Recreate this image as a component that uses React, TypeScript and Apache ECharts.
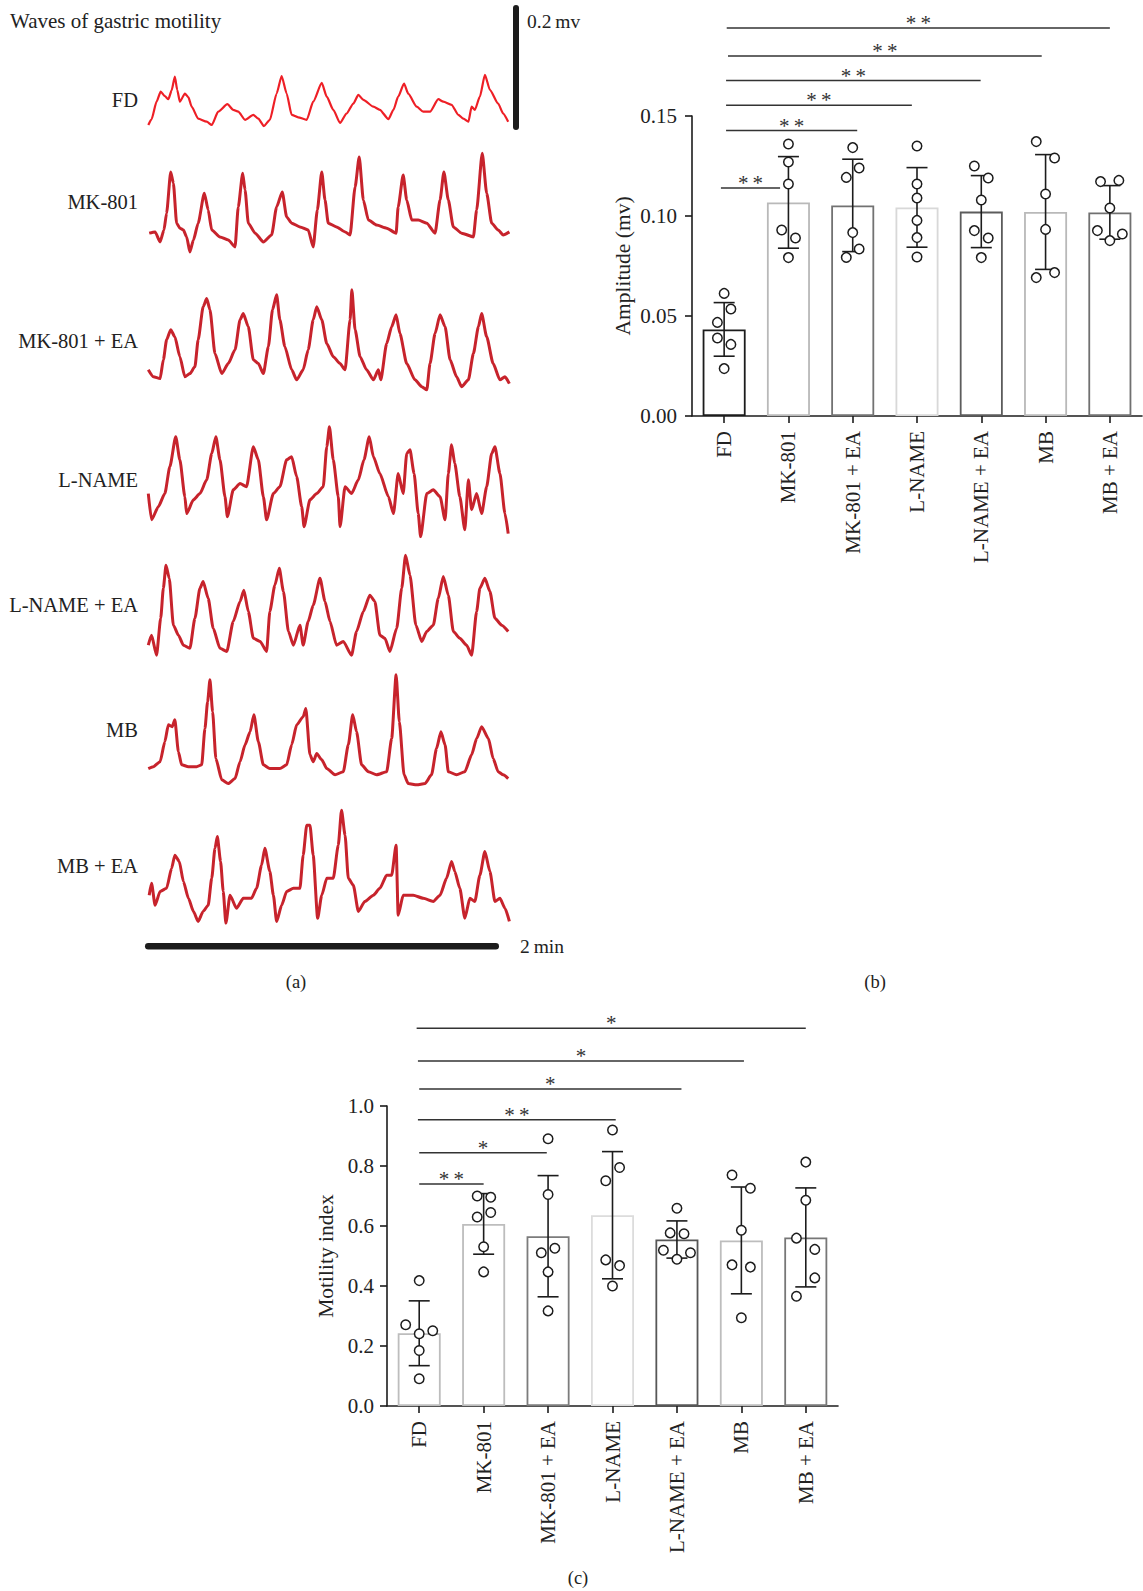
import React, { useEffect, useRef } from 'react';
import * as echarts from 'echarts';

// ---------- shared categories ----------
const GROUPS = ['FD', 'MK-801', 'MK-801 + EA', 'L-NAME', 'L-NAME + EA', 'MB', 'MB + EA'];

// ---------- panel (b): amplitude (mV) ----------
const AMP_MEAN = [0.0433, 0.1068, 0.1053, 0.1043, 0.1022, 0.102, 0.1018];
const AMP_SD = [0.0134, 0.0229, 0.0231, 0.0199, 0.018, 0.0287, 0.0134];
const AMP_POINTS = [
  [0.0613, 0.0535, 0.0468, 0.039, 0.0358, 0.0237],
  [0.136, 0.127, 0.116, 0.093, 0.089, 0.0792],
  [0.1342, 0.124, 0.1193, 0.0917, 0.0835, 0.0793],
  [0.135, 0.116, 0.109, 0.0978, 0.0892, 0.0795],
  [0.125, 0.119, 0.108, 0.0927, 0.089, 0.0792],
  [0.1372, 0.129, 0.111, 0.0933, 0.0717, 0.0692],
  [0.1172, 0.1178, 0.104, 0.0927, 0.091, 0.0877],
];
const AMP_SIG_FROM = [-0.05, 0.03, 0.03, 0.03, 0.06, 0.04];
const AMP_SIG_TO = [0.87, 2.07, 2.92, 3.99, 4.94, 6.0];
const AMP_SIG_LEVEL = [0.114, 0.1427, 0.1554, 0.1677, 0.18, 0.194];
const AMP_SIG_LABEL = ['**', '**', '**', '**', '**', '**'];

// ---------- panel (c): motility index ----------
const MI_MEAN = [0.2425, 0.607, 0.566, 0.636, 0.555, 0.552, 0.562];
const MI_SD = [0.108, 0.101, 0.202, 0.212, 0.062, 0.178, 0.165];
const MI_POINTS = [
  [0.418, 0.271, 0.251, 0.241, 0.185, 0.091],
  [0.7, 0.696, 0.645, 0.63, 0.531, 0.447],
  [0.891, 0.705, 0.526, 0.511, 0.447, 0.317],
  [0.92, 0.795, 0.751, 0.487, 0.468, 0.4],
  [0.659, 0.577, 0.574, 0.519, 0.511, 0.489],
  [0.77, 0.726, 0.586, 0.4705, 0.463, 0.294],
  [0.813, 0.686, 0.5595, 0.522, 0.427, 0.366],
];
const MI_SIG_FROM = [0, 0, -0.02, 0, -0.02, -0.04];
const MI_SIG_TO = [1.0, 1.98, 3.05, 4.07, 5.04, 6.0];
const MI_SIG_LEVEL = [0.74, 0.844, 0.954, 1.057, 1.15, 1.259];
const MI_SIG_LABEL = ['**', '*', '**', '*', '*', '*'];

// ---------- panel (a): gastric motility waves, [time s, µV] ----------
const TRACE_FD = [[0,2.7],[1.1,11.7],[2.8,40],[4.2,56],[5.6,49],[6.8,44],[7.9,58],[9.0,80],[9.8,59],[10.7,40],[12.4,53],[13.6,47],[14.7,32],[16.9,13],[19.8,8],[21.5,2.7],[23.7,24],[26.8,36],[28.8,27],[30.5,24],[32.8,11],[35.6,19],[37.3,13],[39.2,1],[41.2,11],[43.5,53],[45.2,81],[46.9,53],[48.6,19],[50.8,15],[53.7,11],[55.9,40],[58.8,70],[60.5,48],[62.7,27],[65.0,6],[67.2,21],[69.5,37],[71.2,51],[72.9,43],[76.3,32],[78.5,27],[81.4,12],[83.1,27],[84.7,48],[86.7,69],[88.1,53],[91.0,32],[93.2,24],[95.5,24],[98.3,44],[100.0,40],[102.8,35],[105.1,19],[106.8,13],[108.5,8],[109.6,32],[110.7,27],[112.4,48],[114.1,83],[115.8,59],[118.6,37],[120.3,21],[122.0,8]];
const TRACE_MK = [[0.3,35],[2.3,37],[4.0,21],[5.3,40],[6.2,67],[7.6,133],[8.5,115],[9.6,51],[10.7,43],[11.9,40],[13.0,29],[14.1,5],[15.3,24],[16.9,51],[19.0,99],[20.3,72],[21.5,40],[24.3,29],[27.1,24],[29.4,13],[30.5,77],[32.0,131],[32.8,104],[33.9,51],[36.2,35],[39.0,21],[41.8,32],[43.5,77],[45.4,101],[46.9,61],[48.6,51],[51.4,45],[54.2,40],[55.9,13],[57.3,72],[58.8,133],[59.9,88],[61.0,51],[63.8,45],[66.7,37],[68.4,32],[70.1,109],[71.5,157],[72.9,88],[74.6,56],[77.4,48],[80.8,43],[84.0,35],[84.7,77],[86.4,128],[87.6,88],[89.3,56],[91.5,56],[94.4,51],[97.2,35],[98.9,88],[100.2,133],[101.7,88],[103.4,45],[106.2,35],[110.2,29],[111.3,72],[113.2,163],[114.7,99],[116.4,51],[118.6,40],[120.3,32],[122.4,37]];
const TRACE_MK_EA = [[0,35],[1.7,24],[4.0,21],[5.1,51],[6.2,83],[7.6,99],[9.0,88],[10.7,56],[12.4,24],[14.1,29],[15.8,40],[16.9,83],[18.6,136],[19.8,149],[20.9,131],[22.6,61],[24.9,29],[27.1,45],[29.4,67],[31.1,115],[32.2,125],[33.9,104],[35.6,51],[37.3,45],[39.0,29],[40.7,72],[42.1,131],[43.5,155],[44.6,115],[46.3,72],[48.6,35],[50.3,19],[52.5,35],[54.2,67],[55.9,115],[57.1,136],[58.8,115],[60.5,77],[62.7,56],[65.0,45],[66.7,35],[68.4,115],[69.0,163],[70.1,99],[71.8,56],[74.0,35],[76.3,19],[78.0,35],[78.8,19],[80.8,77],[82.5,104],[84.0,123],[85.3,93],[87.6,45],[90.4,19],[92.7,8],[94.4,3],[95.5,45],[97.2,93],[98.9,123],[100.6,104],[102.3,51],[104.5,24],[106.2,8],[108.5,19],[110.2,61],[111.9,104],[113.0,125],[114.7,88],[116.9,45],[119.2,19],[120.9,24],[122.4,13]];
const TRACE_LN = [[0,69],[1.1,27],[3.4,48],[5.6,69],[7.3,112],[9.3,160],[10.7,123],[12.4,64],[13.0,37],[15.3,59],[17.5,69],[19.8,91],[21.5,133],[22.9,160],[24.3,123],[26.0,64],[26.8,32],[28.8,75],[31.1,85],[33.3,80],[35.6,144],[37.3,123],[39.0,64],[40.1,27],[42.4,69],[44.6,80],[46.9,123],[48.6,128],[50.3,96],[52.0,48],[52.8,16],[54.8,59],[57.1,69],[59.3,80],[60.5,144],[61.4,176],[62.7,123],[64.4,64],[65.0,16],[66.7,80],[68.9,69],[71.2,91],[73.1,123],[74.9,160],[76.3,128],[78.5,101],[81.4,64],[83.1,37],[84.7,101],[86.4,69],[87.6,133],[88.7,139],[90.1,101],[91.5,37],[92.3,0],[94.4,69],[96.6,75],[98.9,64],[100.6,27],[101.7,101],[102.8,147],[103.9,117],[105.6,64],[107.3,11],[108.5,91],[109.6,43],[111.3,69],[113.0,37],[114.7,80],[116.4,133],[117.5,144],[119.2,101],[120.9,37],[122.0,5]];
const TRACE_LN_EA = [[0,21],[1.1,37],[2.8,5],[4.2,64],[5.1,112],[6.0,149],[7.1,128],[8.5,53],[10.2,37],[11.9,21],[14.1,16],[15.8,64],[17.5,112],[18.6,123],[20.3,96],[22.0,48],[24.3,16],[26.6,11],[28.8,59],[31.1,91],[32.4,109],[33.9,75],[35.6,32],[37.9,27],[40.1,11],[41.2,75],[42.9,117],[44.4,144],[45.8,107],[47.5,43],[49.2,21],[51.4,53],[52.5,21],[54.2,59],[55.9,85],[58.2,128],[59.9,91],[61.6,59],[63.8,21],[66.1,27],[68.9,5],[70.6,43],[72.9,75],[75.1,101],[76.8,91],[78.5,37],[80.2,32],[81.9,11],[84.2,48],[85.9,112],[87.2,165],[88.7,133],[90.7,53],[92.7,27],[94.4,43],[96.6,53],[98.3,96],[100.0,131],[101.7,101],[103.4,43],[105.6,32],[107.9,21],[109.6,5],[111.3,75],[112.4,112],[114.1,128],[115.8,107],[117.5,64],[119.8,53],[122.0,43]];
const TRACE_MB = [[0,29],[1.7,32],[4.0,40],[5.6,72],[6.8,99],[8.1,96],[9.0,107],[10.2,56],[11.3,35],[13.6,32],[16.4,32],[18.1,35],[19.2,93],[20.1,136],[20.9,171],[21.8,120],[22.9,45],[24.9,11],[27.1,5],[29.4,13],[31.1,40],[32.8,67],[34.5,88],[35.8,115],[37.3,72],[39.0,35],[41.2,29],[44.6,29],[46.9,35],[48.6,67],[50.3,99],[52.5,112],[53.4,125],[54.8,51],[55.9,40],[57.1,53],[58.8,43],[60.5,29],[63.3,19],[66.1,24],[67.8,67],[69.3,115],[70.6,88],[72.3,35],[74.6,24],[77.4,19],[80.8,24],[82.5,77],[84.0,179],[85.1,104],[86.7,19],[88.1,5],[91.0,3],[93.8,5],[96.0,19],[97.7,61],[99.2,88],[100.6,67],[101.7,24],[104.5,19],[107.3,24],[109.6,51],[111.3,77],[113.0,96],[115.3,77],[116.9,45],[118.6,24],[120.3,19],[122.0,13]];
const TRACE_MB_EA = [[0.3,45],[1.1,64],[2.3,29],[4.0,51],[6.2,56],[7.9,88],[9.0,109],[10.5,99],[11.9,67],[13.6,40],[15.3,19],[16.9,3],[18.6,19],[20.3,29],[21.5,72],[22.6,120],[23.4,139],[24.5,99],[25.4,51],[26.3,0],[27.7,45],[29.9,24],[32.2,40],[35.0,40],[36.7,56],[38.4,93],[39.5,120],[41.2,83],[42.4,45],[43.5,3],[45.2,29],[46.9,51],[49.2,56],[51.4,56],[52.5,109],[53.7,157],[54.8,157],[55.9,109],[57.4,8],[58.8,45],[60.5,72],[62.7,72],[64.4,125],[65.5,181],[66.7,141],[67.8,72],[69.5,61],[71.2,19],[73.4,35],[76.3,45],[78.5,56],[80.8,77],[82.5,77],[84.0,125],[84.7,13],[86.4,45],[89.8,45],[93.2,40],[96.6,35],[98.9,45],[101.1,72],[102.8,99],[103.9,83],[105.6,56],[107.3,8],[109.0,40],[110.7,35],[112.4,77],[114.1,115],[115.8,83],[117.5,35],[119.2,40],[120.9,24],[122.4,3]];
const TRACES = [TRACE_FD, TRACE_MK, TRACE_MK_EA, TRACE_LN, TRACE_LN_EA, TRACE_MB, TRACE_MB_EA];

// ---------- layout / style (not data) ----------
const FONT = '"Liberation Serif", "Times New Roman", serif';
const PX_PER_S = 2.95;
const PX_PER_UV = 0.625;
const T_MAX = 122.4;
const V_MAX = 200;
const TRACE_LEFT = 148.3;
const TRACE_BASE = [126.7, 255, 391.7, 536.7, 658.3, 786.7, 923.3];
const TRACE_LABEL_Y = [99.5, 202, 341, 480, 605, 730, 866];
const TRACE_COLORS = ['#ee1f26', '#c7232c', '#c7232c', '#c7232c', '#c7232c', '#c7232c', '#c7232c'];
const SCALE_MV = 200; // µV
const SCALE_S = 120;

const JIT_B = [
  [0, 0.105, -0.105, -0.105, 0.105, 0],
  [0, 0, 0, -0.105, 0.11, 0],
  [0, 0.1, -0.1, 0, 0.1, -0.1],
  [0, 0, 0, 0, 0, 0],
  [-0.108, 0.108, 0, -0.108, 0.108, 0],
  [-0.145, 0.14, 0, 0, 0.14, -0.145],
  [-0.145, 0.14, 0, -0.194, 0.194, 0],
];
const JIT_C = [
  [0, -0.21, 0.21, 0, 0, 0],
  [-0.1, 0.11, 0.11, -0.1, 0, 0],
  [0, 0, 0.105, -0.105, 0, 0],
  [0, 0.11, -0.105, -0.105, 0.11, 0],
  [0, -0.105, 0.11, -0.21, 0.21, 0],
  [-0.145, 0.14, 0, -0.145, 0.14, 0],
  [0, 0, -0.145, 0.14, 0.14, -0.145],
];
const BORDER_B = ['#1c1c1c', '#b9b9b9', '#727272', '#d8d8d8', '#5c5c5c', '#b9b9b9', '#707070'];
const BORDER_C = ['#bdbdbd', '#bdbdbd', '#7c7c7c', '#dcdcdc', '#575757', '#bdbdbd', '#777777'];

const INK = '#1c1c1c';

function barPanel(opts: any) {
  const { xCat, xVal, yIdx, means, sds, points, jit, borders, from, to, level, labels, barWidth } = opts;
  const scatter: number[][] = [];
  points.forEach((arr: number[], i: number) => arr.forEach((v, k) => scatter.push([i + jit[i][k], v])));
  const lineStyle = { stroke: INK, lineWidth: 1.6 };
  return [
    {
      type: 'bar', xAxisIndex: xCat, yAxisIndex: yIdx, barWidth,
      data: means.map((v: number, i: number) => ({ value: v, itemStyle: { borderColor: borders[i] } })),
      itemStyle: { color: '#ffffff', borderWidth: 1.8 }, z: 2,
    },
    {
      type: 'custom', xAxisIndex: xVal, yAxisIndex: yIdx, z: 3,
      data: means.map((m: number, i: number) => [i, m, sds[i]]),
      renderItem: (params: any, api: any) => {
        const x = api.value(0), m = api.value(1), s = api.value(2);
        const t = api.coord([x, m + s]);
        const b = api.coord([x, m - s]);
        const h = 10.5;
        return {
          type: 'group', children: [
            { type: 'line', shape: { x1: t[0], y1: t[1], x2: b[0], y2: b[1] }, style: lineStyle },
            { type: 'line', shape: { x1: t[0] - h, y1: t[1], x2: t[0] + h, y2: t[1] }, style: lineStyle },
            { type: 'line', shape: { x1: b[0] - h, y1: b[1], x2: b[0] + h, y2: b[1] }, style: lineStyle },
          ],
        };
      },
    },
    {
      type: 'scatter', xAxisIndex: xVal, yAxisIndex: yIdx, z: 4, data: scatter,
      symbol: 'circle', symbolSize: 9.5,
      itemStyle: { color: '#ffffff', borderColor: INK, borderWidth: 1.5, opacity: 1 },
    },
    {
      type: 'custom', xAxisIndex: xVal, yAxisIndex: yIdx, z: 3, clip: false,
      data: level.map((lv: number, i: number) => [from[i], to[i], lv]),
      renderItem: (params: any, api: any) => {
        const a = api.coord([api.value(0), api.value(2)]);
        const b = api.coord([api.value(1), api.value(2)]);
        const lab = labels[params.dataIndex].split('').join('\u2009');
        return {
          type: 'group', children: [
            { type: 'line', shape: { x1: a[0], y1: a[1], x2: b[0], y2: b[1] }, style: { stroke: '#333', lineWidth: 1.5 } },
            {
              type: 'text', x: (a[0] + b[0]) / 2, y: a[1] - 5,
              style: { text: lab, fill: '#333', font: `21px ${FONT}`, align: 'center', verticalAlign: 'middle' },
            },
          ],
        };
      },
    },
  ];
}

function buildOption() {
  const grids: any[] = [];
  const xAxes: any[] = [];
  const yAxes: any[] = [];
  const series: any[] = [];

  TRACES.forEach((tr, i) => {
    const h = V_MAX * PX_PER_UV;
    grids.push({ left: TRACE_LEFT, top: TRACE_BASE[i] - h, width: T_MAX * PX_PER_S, height: h });
    xAxes.push({ type: 'value', gridIndex: i, min: 0, max: T_MAX, show: false });
    yAxes.push({ type: 'value', gridIndex: i, min: 0, max: V_MAX, show: false });
    series.push({
      type: 'line', xAxisIndex: i, yAxisIndex: i, data: tr, showSymbol: false, symbol: 'none',
      smooth: 0.2, smoothMonotone: 'x',
      lineStyle: { color: TRACE_COLORS[i], width: i === 0 ? 2.2 : 3, join: 'round' }, z: 2,
    });
  });

  const axisCommon = {
    axisLine: { show: true, onZero: false, lineStyle: { color: INK, width: 1.6 } },
    axisTick: { show: true, length: 7, lineStyle: { color: INK, width: 1.6 } },
    splitLine: { show: false },
  };
  const labelStyle = { color: '#222', fontFamily: FONT, fontSize: 21 };

  grids.push({ left: 692, top: 116, width: 450, height: 300 });
  grids.push({ left: 387, top: 1106, width: 451, height: 300 });
  const gB = 7, gC = 8;
  xAxes.push({
    type: 'category', gridIndex: gB, data: GROUPS, ...axisCommon,
    axisTick: { ...axisCommon.axisTick, alignWithLabel: true },
    axisLabel: { ...labelStyle, rotate: 90, interval: 0, margin: 15 },
  });
  xAxes.push({ type: 'value', gridIndex: gB, min: -0.5, max: 6.5, show: false });
  xAxes.push({
    type: 'category', gridIndex: gC, data: GROUPS, ...axisCommon,
    axisTick: { ...axisCommon.axisTick, alignWithLabel: true },
    axisLabel: { ...labelStyle, rotate: 90, interval: 0, margin: 15 },
  });
  xAxes.push({ type: 'value', gridIndex: gC, min: -0.5, max: 6.5, show: false });
  yAxes.push({
    type: 'value', gridIndex: gB, min: 0, max: 0.15, interval: 0.05, ...axisCommon,
    name: 'Amplitude (mv)', nameLocation: 'middle', nameGap: 58,
    nameTextStyle: { color: '#222', fontFamily: FONT, fontSize: 21.5 },
    axisLabel: { ...labelStyle, margin: 15, formatter: (v: number) => v.toFixed(2) },
  });
  yAxes.push({
    type: 'value', gridIndex: gC, min: 0, max: 1.0, interval: 0.2, ...axisCommon,
    name: 'Motility index', nameLocation: 'middle', nameGap: 50,
    nameTextStyle: { color: '#222', fontFamily: FONT, fontSize: 21.5 },
    axisLabel: { ...labelStyle, margin: 13, formatter: (v: number) => v.toFixed(1) },
  });

  series.push(...barPanel({
    xCat: 7, xVal: 8, yIdx: 7, means: AMP_MEAN, sds: AMP_SD, points: AMP_POINTS, jit: JIT_B,
    borders: BORDER_B, from: AMP_SIG_FROM, to: AMP_SIG_TO, level: AMP_SIG_LEVEL, labels: AMP_SIG_LABEL, barWidth: 43,
  }));
  series.push(...barPanel({
    xCat: 9, xVal: 10, yIdx: 8, means: MI_MEAN, sds: MI_SD, points: MI_POINTS, jit: JIT_C,
    borders: BORDER_C, from: MI_SIG_FROM, to: MI_SIG_TO, level: MI_SIG_LEVEL, labels: MI_SIG_LABEL, barWidth: 43,
  }));

  const txt = (text: string, x: number, y: number, align: string, size = 20) => ({
    type: 'text', x, y,
    style: { text, fill: '#222', font: `${size}px ${FONT}`, align, verticalAlign: 'middle' },
  });

  const graphic: any[] = [
    txt('Waves of gastric motility', 10, 21, 'left', 21),
    ...GROUPS.map((g, i) => txt(g, 138, TRACE_LABEL_Y[i], 'right', 20.5)),
    {
      type: 'rect', shape: { x: 513, y: TRACE_BASE[0] + 3.3 - SCALE_MV * PX_PER_UV, width: 6, height: SCALE_MV * PX_PER_UV, r: 3 },
      style: { fill: INK },
    },
    txt('0.2\u2009mv', 527, 21, 'left', 19.5),
    {
      type: 'rect', shape: { x: 145, y: 943, width: SCALE_S * PX_PER_S, height: 6.5, r: 3.2 },
      style: { fill: INK },
    },
    txt('2\u2009min', 520, 946, 'left', 19.5),
    txt('(a)', 296, 982, 'center', 18.5),
    txt('(b)', 875, 982, 'center', 18.5),
    txt('(c)', 578, 1578, 'center', 18.5),
  ];

  return {
    animation: false,
    backgroundColor: '#ffffff',
    textStyle: { fontFamily: FONT },
    grid: grids,
    xAxis: xAxes,
    yAxis: yAxes,
    series,
    graphic,
  };
}

export default function App() {
  const ref = useRef<HTMLDivElement>(null);
  useEffect(() => {
    if (!ref.current) return;
    const chart = echarts.init(ref.current, undefined, { renderer: 'svg' });
    chart.setOption(buildOption() as any);
    return () => chart.dispose();
  }, []);
  return (
    <div
      ref={ref}
      style={{ position: 'absolute', left: 0, top: 0, width: 1143, height: 1591, background: '#fff' }}
    />
  );
}
